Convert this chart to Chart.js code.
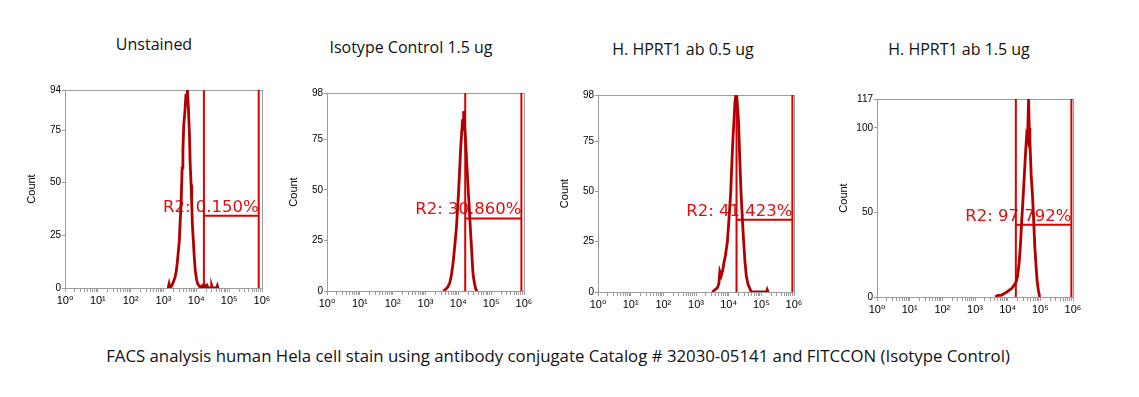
<!DOCTYPE html>
<html>
<head>
<meta charset="utf-8">
<script src="https://cdn.jsdelivr.net/npm/chart.js@4.4.1/dist/chart.umd.min.js"></script>
<style>
  html, body { margin: 0; padding: 0; background: #fff; }
  #page { position: relative; width: 1139px; height: 397px; overflow: hidden; font-family: 'Open Sans', sans-serif; color: #111; }
  .ttl { position: absolute; font-size: 16px; white-space: nowrap; transform: translate(-50%, -50%); }
  .cap { font-size: 16.8px; }
  canvas { position: absolute; }
</style>
</head>
<body>
<div id="page"></div>
<script>
// ---- data ----
const panelTitles = ['Unstained', 'Isotype Control 1.5 ug', 'H. HPRT1 ab 0.5 ug', 'H. HPRT1 ab 1.5 ug'];
const caption = 'FACS analysis human Hela cell stain using antibody conjugate Catalog # 32030-05141 and FITCCON (Isotype Control)';
const xTickExponents = [0, 1, 2, 3, 4, 5, 6];
const yMaxes = [94, 98, 98, 117];
const yTickValues = [[0, 25, 50, 75, 94], [0, 25, 50, 75, 98], [0, 25, 50, 75, 98], [0, 50, 100, 117]];
const gateStart = [17000, 16200, 17400, 17800];
const gateEnd = [794000, 832000, 891000, 891000];
const gateLevel = [34.3, 35.9, 35.9, 42.7];
const gateLabels = ['R2: 0.150%', 'R2: 30.860%', 'R2: 41.423%', 'R2: 97.792%'];

const unstainedFL = [1380, 1480, 1585, 1780, 2000, 2240, 2450, 2630, 2820, 3020, 3250, 3450, 3700, 3900, 4120, 4500, 4850, 5100, 5370, 5750, 6170, 6460, 6920, 7240, 7590, 8130, 8710, 9330, 10200, 11000, 12300, 13500, 15100, 16600, 18600, 20000, 21400, 22900, 28200, 29500, 30900, 41700, 43700, 45700];
const unstainedCount = [0, 2, 0, 1, 3, 5, 8, 12, 17, 22, 33, 41, 57, 65, 77, 84, 92, 89, 94, 85, 73, 60, 49, 40, 30, 22, 14, 8, 4, 2, 1, 0, 1, 0, 1, 0, 1, 0, 0, 1, 0, 0, 1, 0];

const isotypeFL = [3550, 4170, 4790, 5500, 6170, 6920, 7760, 8710, 9770, 10700, 11700, 12600, 13500, 13960, 14500, 15500, 16600, 18200, 20000, 21400, 23400, 25100, 26900, 28200, 30900, 33900, 37200];
const isotypeCount = [0, 1, 2, 4, 8, 14, 22, 31, 44, 56, 70, 78, 85, 80, 89, 82, 75, 62, 50, 42, 30, 22, 13, 8, 4, 1, 0];

const hprtLowFL = [3160, 3720, 4470, 5010, 5370, 5890, 6610, 7240, 7940, 9120, 10200, 11500, 12600, 13500, 14500, 15500, 16600, 17800, 19100, 20000, 21900, 24000, 26300, 28800, 31600, 34700, 38900, 43700, 49000, 145000, 151000, 158000];
const hprtLowCount = [0, 1, 2, 4, 10, 8, 11, 15, 18, 25, 36, 49, 65, 76, 85, 94, 98, 97, 90, 85, 66, 49, 36, 25, 15, 8, 4, 2, 0, 0, 1, 0];

const hprtHighFL = [4170, 5010, 6310, 7940, 9550, 11200, 13200, 15800, 18200, 20000, 22400, 24500, 26900, 29500, 32400, 35500, 38000, 40700, 43700, 45700, 47900, 52500, 57500, 61700, 67600, 74100, 79400, 87100, 95500];
const hprtHighCount = [0, 1, 1, 2, 3, 4, 5, 7, 9, 12, 20, 30, 45, 58, 72, 86, 95, 93, 117, 100, 92, 72, 60, 48, 30, 18, 10, 4, 0];

const seriesFL = [unstainedFL, isotypeFL, hprtLowFL, hprtHighFL];
const seriesCount = [unstainedCount, isotypeCount, hprtLowCount, hprtHighCount];

// ---- layout ----
const plotBoxes = [[65, 90, 262, 288], [327, 93, 524, 291], [598, 95, 794, 292], [877, 99, 1073, 297]];
const titlePos = [[154, 44], [411, 47], [683, 49], [959, 49]];
const AXIS_W = 40, AXIS_H = 24, PAD_T = 8, PAD_R = 14;
const HIST = '#b00000', HIST_HI = '#d81010', GATE = '#d80000', GRID = '#9c9c9c';
const SUP = ['\u2070', '\u00b9', '\u00b2', '\u00b3', '\u2074', '\u2075', '\u2076'];

const page = document.getElementById('page');

const frame = {
  id: 'frame',
  beforeDatasetsDraw(chart) {
    const { ctx, chartArea: a } = chart;
    ctx.save();
    ctx.strokeStyle = GRID;
    ctx.lineWidth = 1;
    ctx.strokeRect(a.left + 0.5, a.top + 0.5, a.right - a.left, a.bottom - a.top);
    ctx.restore();
  }
};

const gateText = {
  id: 'gateText',
  beforeDatasetsDraw(chart, args, opts) {
    const { ctx, scales: { x, y } } = chart;
    ctx.save();
    ctx.font = '16.5px "DejaVu Sans"';
    ctx.fillStyle = '#dd1111';
    ctx.textAlign = 'right';
    ctx.textBaseline = 'alphabetic';
    ctx.fillText(opts.text, x.getPixelForValue(opts.xEnd), y.getPixelForValue(opts.level) - 4);
    ctx.restore();
  }
};

function logTicks() {
  const out = [];
  for (let e = 0; e < 6; e++) for (let k = 1; k <= 9; k++) out.push({ value: k * Math.pow(10, e) });
  out.push({ value: 1e6 });
  return out;
}

function makePanel(i) {
  const [l, t, r, b] = plotBoxes[i];
  const cv = document.createElement('canvas');
  cv.width = (r - l) + AXIS_W + PAD_R;
  cv.height = (b - t) + PAD_T + AXIS_H;
  cv.style.left = (l - AXIS_W) + 'px';
  cv.style.top = (t - PAD_T) + 'px';
  page.appendChild(cv);

  const fl = seriesFL[i], cnt = seriesCount[i], ymax = yMaxes[i];
  const pts = fl.map((x, k) => ({ x, y: cnt[k] }));
  const gateLine = (p) => ({ data: p, borderColor: GATE, borderWidth: 2, pointRadius: 0, tension: 0 });

  new Chart(cv, {
    type: 'line',
    data: {
      datasets: [
        { data: pts, borderColor: HIST, borderWidth: 2.8, pointRadius: 0, tension: 0 },
        { data: pts, borderColor: HIST_HI, borderWidth: 0.9, pointRadius: 0, tension: 0 },
        gateLine([{ x: gateStart[i], y: 0 }, { x: gateStart[i], y: ymax }]),
        gateLine([{ x: gateEnd[i], y: 0 }, { x: gateEnd[i], y: ymax }]),
        gateLine([{ x: gateStart[i], y: gateLevel[i] }, { x: gateEnd[i], y: gateLevel[i] }]),
      ]
    },
    options: {
      responsive: false, animation: false, devicePixelRatio: 1,
      layout: { padding: { top: PAD_T, right: PAD_R, left: 0, bottom: 0 } },
      plugins: {
        legend: { display: false }, tooltip: { enabled: false },
        gateText: { text: gateLabels[i], xEnd: gateEnd[i], level: gateLevel[i] },
      },
      scales: {
        x: {
          type: 'logarithmic', min: 1, max: 1e6,
          afterBuildTicks: (s) => { s.ticks = logTicks(); },
          afterFit: (s) => { s.height = AXIS_H; },
          ticks: {
            autoSkip: false, maxRotation: 0, minRotation: 0, padding: 2, color: '#000',
            font: { family: '"Liberation Sans", "DejaVu Sans"', size: 11 },
            callback: (v) => {
              const e = Math.round(Math.log10(v));
              return Math.abs(Math.log10(v) - e) < 1e-9 && xTickExponents.includes(e) ? '10' + SUP[e] : '';
            }
          },
          grid: { drawOnChartArea: false, tickLength: 4, color: GRID },
          border: { color: GRID },
        },
        y: {
          type: 'linear', min: 0, max: ymax,
          afterBuildTicks: (s) => { s.ticks = yTickValues[i].map(v => ({ value: v })); },
          afterFit: (s) => { s.width = AXIS_W; },
          ticks: { padding: 1, color: '#000', font: { family: '"Liberation Sans"', size: 10 } },
          grid: { drawOnChartArea: false, tickLength: 3, color: GRID },
          border: { color: GRID },
          title: { display: true, text: 'Count', color: '#000', padding: 0, font: { family: '"Liberation Sans"', size: 11 } },
        }
      }
    },
    plugins: [frame, gateText]
  });
}

panelTitles.forEach((txt, i) => {
  const d = document.createElement('div');
  d.className = 'ttl';
  d.textContent = txt;
  d.style.left = titlePos[i][0] + 'px';
  d.style.top = titlePos[i][1] + 'px';
  page.appendChild(d);
  makePanel(i);
});

const cap = document.createElement('div');
cap.className = 'ttl cap';
cap.textContent = caption;
cap.style.left = '558px';
cap.style.top = '355px';
page.appendChild(cap);
</script>
</body>
</html>
